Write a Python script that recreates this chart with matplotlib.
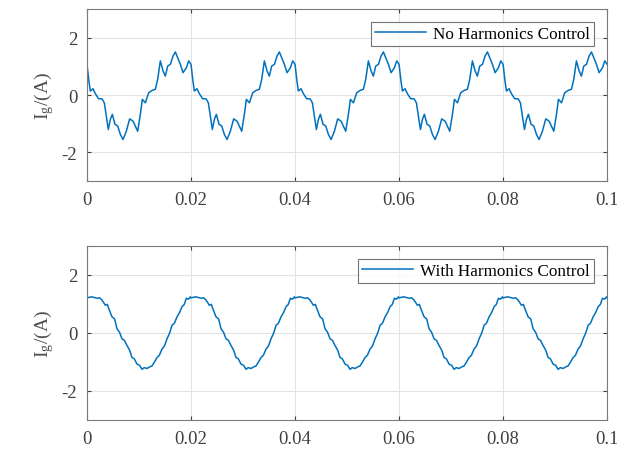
import numpy as np
import matplotlib
matplotlib.use('Agg')
import matplotlib.pyplot as plt

# one 20 ms period (time in ms, current in A)
t_no = [0, 0.32, 0.64, 1.15, 1.6, 2.24, 2.88, 3.33, 3.72, 4.1, 4.49, 4.87, 5.38, 5.9,
        6.41, 6.92, 7.56, 8.2, 8.85, 9.29, 9.74, 10.26, 10.64, 11.22, 11.86, 12.5,
        13.14, 13.59, 14.1, 14.62, 15.06, 15.51, 16.03, 16.54, 16.99, 17.44, 17.95,
        18.46, 19.1, 19.55]
i_no = [1.07, 0.55, 0.14, 0.22, 0.05, -0.13, -0.13, -0.27, -0.73, -1.2, -0.85, -0.67,
        -1.02, -1.08, -1.37, -1.55, -1.26, -0.83, -0.91, -1.08, -1.26, -0.67, -0.15,
        -0.27, 0.08, 0.16, 0.2, 0.55, 1.19, 0.84, 0.66, 1.01, 1.07, 1.36, 1.5, 1.3,
        1.07, 0.78, 0.95, 1.19]

t_with = [0, 0.32, 0.96, 1.92, 2.4, 2.88, 3.53, 3.9, 4.17, 4.81, 5.3, 5.77, 6.25, 6.73,
          7.2, 7.69, 8.2, 8.65, 9.1, 9.62, 10.1, 10.58, 11.0, 11.54, 12.0, 12.5, 13.0,
          13.46, 13.9, 14.42, 14.9, 15.38, 15.9, 16.35, 16.8, 17.31, 17.8, 18.27, 18.7,
          19.1, 19.5, 19.87]
i_with = [1.2, 1.22, 1.24, 1.19, 1.21, 1.13, 0.95, 0.98, 0.84, 0.55, 0.48, 0.14, 0.02,
          -0.21, -0.26, -0.44, -0.6, -0.85, -0.9, -1.08, -1.12, -1.26, -1.2, -1.23,
          -1.18, -1.14, -1.0, -0.85, -0.78, -0.56, -0.45, -0.21, 0.0, 0.26, 0.33, 0.55,
          0.7, 0.9, 0.98, 1.19, 1.16, 1.24]

n_periods = 5
period = 0.02
xticks = [0, 0.02, 0.04, 0.06, 0.08, 0.1]
xticklabels = ['0', '0.02', '0.04', '0.06', '0.08', '0.1']
yticks = [-2, 0, 2]
labels = ['No Harmonics Control', 'With Harmonics Control']


def tile(t_ms, vals):
    t = np.array(t_ms) / 1000.0
    tt = np.concatenate([t + k * period for k in range(n_periods)] + [[n_periods * period]])
    vv = np.concatenate([vals] * n_periods + [[vals[0]]])
    return tt, vv


plt.rcParams['font.family'] = ['Liberation Serif', 'DejaVu Serif']
plt.rcParams['mathtext.fontset'] = 'stix'
plt.rcParams['axes.unicode_minus'] = False

fig = plt.figure(figsize=(6.17, 4.52), dpi=100)
ax1 = fig.add_axes([0.141, 0.597, 0.843, 0.381])
ax2 = fig.add_axes([0.141, 0.069, 0.843, 0.385])

for ax, (tm, iv), lab in zip([ax1, ax2], [(t_no, i_no), (t_with, i_with)], labels):
    x, y = tile(tm, iv)
    ax.plot(x, y, color='#0072BD', lw=1.1, label=lab)
    ax.set_xlim(0, 0.1)
    ax.set_ylim(-3, 3)
    ax.set_xticks(xticks)
    ax.set_xticklabels(xticklabels)
    ax.set_yticks(yticks)
    ax.grid(True, color='#e3e3e3', lw=0.8)
    ax.set_axisbelow(True)
    ax.tick_params(direction='in', length=3, labelsize=13.5, colors='#404040',
                   top=True, right=True, pad=7)
    for s in ax.spines.values():
        s.set_color('#7a7a7a')
        s.set_linewidth(0.8)
    ax.set_ylabel(r'I$_\mathregular{g}$/(A)', fontsize=14, color='#505050', labelpad=4)
    leg = ax.legend(loc='upper right', fontsize=12.3, frameon=True, fancybox=False,
                    edgecolor='#505050', borderpad=0.25, handlelength=3.0,
                    handletextpad=0.4, borderaxespad=0.75)
    leg.get_frame().set_linewidth(0.8)

fig.savefig('out.png', dpi=100)
